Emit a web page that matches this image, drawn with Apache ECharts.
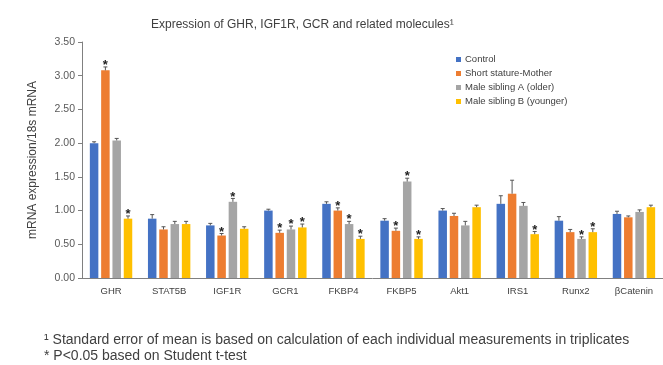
<!DOCTYPE html>
<html>
<head>
<meta charset="utf-8">
<script src="https://cdn.jsdelivr.net/npm/echarts@6/dist/echarts.min.js"></script>
<style>
  html, body { margin: 0; padding: 0; background: #fff; }
  #chart { width: 663px; height: 365px; }
</style>
</head>
<body>
<div id="chart"></div>
<script>
// Gene categories
const categories = ['GHR', 'STAT5B', 'IGF1R', 'GCR1', 'FKBP4', 'FKBP5', 'Akt1', 'IRS1', 'Runx2', 'βCatenin'];

// Relative mRNA expression (normalised to 18s)
const control = [2.00, 0.88, 0.78, 1.00, 1.10, 0.85, 1.00, 1.10, 0.85, 0.95];
const mother  = [3.08, 0.72, 0.63, 0.67, 1.00, 0.70, 0.92, 1.25, 0.68, 0.90];
const siblingA = [2.04, 0.80, 1.13, 0.72, 0.80, 1.43, 0.78, 1.07, 0.58, 0.98];
const siblingB = [0.88, 0.80, 0.73, 0.75, 0.58, 0.58, 1.05, 0.65, 0.68, 1.05];

// Standard error of mean
const controlErr = [0.02, 0.06, 0.03, 0.02, 0.03, 0.03, 0.03, 0.12, 0.06, 0.04];
const motherErr  = [0.05, 0.04, 0.03, 0.04, 0.04, 0.04, 0.04, 0.20, 0.04, 0.02];
const siblingAErr = [0.03, 0.04, 0.05, 0.05, 0.04, 0.05, 0.06, 0.05, 0.03, 0.03];
const siblingBErr = [0.04, 0.04, 0.03, 0.05, 0.04, 0.03, 0.03, 0.04, 0.05, 0.03];

// Significance (P<0.05) flags
const controlSig = [0, 0, 0, 0, 0, 0, 0, 0, 0, 0];
const motherSig  = [1, 0, 1, 1, 1, 1, 0, 0, 0, 0];
const siblingASig = [0, 0, 1, 1, 1, 1, 0, 0, 1, 0];
const siblingBSig = [1, 0, 0, 1, 1, 1, 0, 1, 1, 0];

// Y axis ticks
const yMin = 0, yMax = 3.5, yStep = 0.5;

const seriesNames = ['Control', 'Short stature-Mother', 'Male sibling A (older)', 'Male sibling B (younger)'];
const colors = ['#4472C4', '#ED7D31', '#A5A5A5', '#FFC000'];
const values = [control, mother, siblingA, siblingB];
const errors = [controlErr, motherErr, siblingAErr, siblingBErr];
const sigs = [controlSig, motherSig, siblingASig, siblingBSig];

const font = 'Liberation Sans, Arial, sans-serif';
const BAR_W = 8.5;
const GAP = 2.8;
const total = 4 * BAR_W + 3 * GAP;
const offsets = [0, 1, 2, 3].map(i => -total / 2 + BAR_W / 2 + i * (BAR_W + GAP));

const barSeries = values.map((v, s) => ({
  name: seriesNames[s],
  type: 'bar',
  data: v,
  barWidth: BAR_W,
  barGap: (GAP / BAR_W * 100) + '%',
  itemStyle: { color: colors[s] },
  z: 2
}));

const errData = [];
values.forEach((v, s) => {
  v.forEach((val, i) => errData.push([i, val, errors[s][i], sigs[s][i], s]));
});

// Error bars (upper whisker with cap) and significance asterisks
const errSeries = {
  type: 'custom',
  data: errData,
  z: 3,
  silent: true,
  renderItem: function (params, api) {
    const i = api.value(0);
    const base = api.coord([i, api.value(1)]);
    const top = api.coord([i, api.value(1) + api.value(2)]);
    const cx = base[0] + offsets[api.value(4)];
    const children = [
      { type: 'line', shape: { x1: cx, y1: base[1], x2: cx, y2: top[1] }, style: { stroke: '#555', lineWidth: 1 } },
      { type: 'line', shape: { x1: cx - 2, y1: top[1], x2: cx + 2, y2: top[1] }, style: { stroke: '#555', lineWidth: 1 } }
    ];
    if (api.value(3)) {
      children.push({
        type: 'text',
        style: { text: '*', x: cx, y: top[1] + 5, textAlign: 'center', textVerticalAlign: 'bottom', fontSize: 13, fontWeight: 'bold', fill: '#222', fontFamily: font }
      });
    }
    return { type: 'group', children: children };
  }
};

const chart = echarts.init(document.getElementById('chart'), null, { renderer: 'canvas' });
chart.setOption({
  animation: false,
  backgroundColor: '#fff',
  title: {
    text: 'Expression of GHR, IGF1R, GCR and related molecules¹',
    left: 146,
    top: 14,
    textStyle: { fontSize: 12, fontWeight: 'normal', color: '#404040', fontFamily: font }
  },
  legend: {
    data: seriesNames,
    orient: 'vertical',
    left: 451,
    top: 49,
    itemWidth: 5,
    itemHeight: 5,
    itemGap: 3,
    icon: 'rect',
    textStyle: { fontSize: 9.5, color: '#404040', fontFamily: font, lineHeight: 11, padding: [0, 0, 0, -1] }
  },
  grid: { left: 82, right: 0, top: 42, bottom: 87, containLabel: false },
  xAxis: {
    type: 'category',
    data: categories,
    axisLine: { lineStyle: { color: '#808080', width: 1 } },
    axisTick: { show: false },
    axisLabel: { fontSize: 9.5, color: '#404040', margin: 8, fontFamily: font, interval: 0 }
  },
  yAxis: {
    type: 'value',
    min: yMin,
    max: yMax,
    interval: yStep,
    name: 'mRNA expression/18s mRNA',
    nameLocation: 'middle',
    nameGap: 43,
    nameTextStyle: { fontSize: 12, color: '#404040', fontFamily: font },
    axisLine: { show: true, lineStyle: { color: '#808080' } },
    axisTick: { show: true, length: 4, lineStyle: { color: '#808080' } },
    splitLine: { show: false },
    axisLabel: { fontSize: 10.5, color: '#595959', margin: 7, fontFamily: font, formatter: v => v.toFixed(2) }
  },
  graphic: [
    { type: 'text', left: 44, top: 333, style: { text: '¹ Standard error of mean is based on calculation of each individual measurements in triplicates', fontSize: 14, fill: '#404040', fontFamily: font } },
    { type: 'text', left: 44, top: 349, style: { text: '* P<0.05 based on Student t-test', fontSize: 14, fill: '#404040', fontFamily: font } }
  ],
  series: barSeries.concat([errSeries])
});
</script>
</body>
</html>
